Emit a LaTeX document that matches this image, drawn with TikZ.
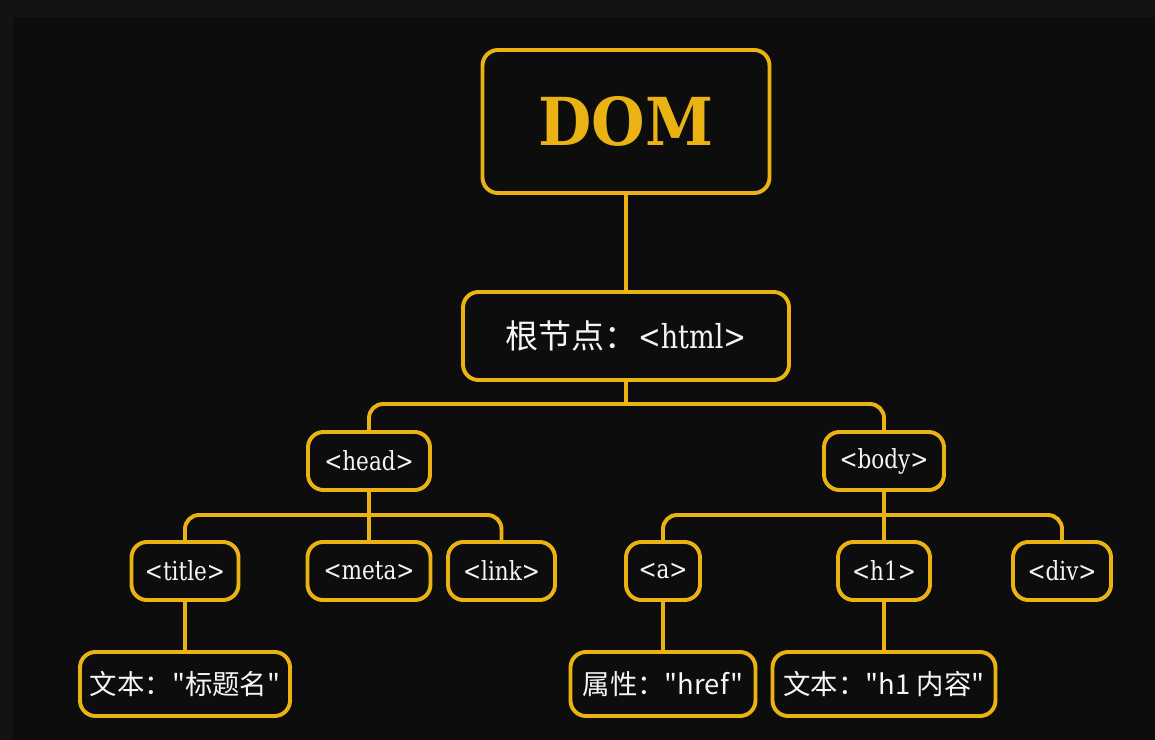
\documentclass[tikz,border=0pt]{standalone}
\usepackage{fontspec}
\setmainfont{DejaVu Serif}[FakeStretch=0.82]
\newfontfamily\cjk{Noto Sans CJK SC}
\newfontfamily\domfont{DejaVu Serif}[FakeStretch=0.93]
\definecolor{domgold}{RGB}{234,178,18}
\definecolor{bgdark}{RGB}{13,13,13}
\definecolor{bgedge}{RGB}{19,19,19}
\definecolor{tagwhite}{RGB}{245,245,245}
\newcommand{\px}{0.025cm}
\tikzset{
  dbox/.style  = {draw=domgold, line width=2.8pt, rounded corners=11pt,
                  fill=bgdark, inner sep=0pt, text=tagwhite},
  dtop/.style  = {dbox, minimum height={143*\px}, text=domgold,
                  font=\domfont\bfseries\fontsize{47}{52}\selectfont}, % the title box
  droot/.style = {dbox, minimum height={88*\px}, font=\fontsize{23.5}{28}\selectfont},
  dtag/.style  = {dbox, minimum height={58*\px}, font=\fontsize{18.7}{22}\selectfont},
  dleaf/.style = {dbox, minimum height={64*\px}, font=\cjk\fontsize{19.5}{23}\selectfont},
  dline/.style = {draw=domgold, line width=2.8pt, rounded corners=10pt},
}

\begin{document}
\begin{tikzpicture}[x=\px, y=-\px]
  \useasboundingbox (0,0) rectangle (1155,740);
  \fill[bgedge] (0,0) rectangle (1155,740);
  \fill[bgdark] (13,17) rectangle (1155,740);

  % levels, top to bottom
  \node[dtop, minimum width={287*\px}] (dom) at (626,121.5) {DOM};
  \node[droot, minimum width={326*\px}] (html) at (626,336) {{\cjk 根节点：}<html>};

  \node[dtag, minimum width={122*\px}] (head) at (369,461) {<head>};
  \node[dtag, minimum width={120*\px}] (body) at (884,461) {<body>};

  \node[dtag, minimum width={107*\px}] (title) at (185,571) {<title>};
  \node[dtag, minimum width={123*\px}] (meta) at (369,571) {<meta>};
  \node[dtag, minimum width={107*\px}] (link) at (501.5,571) {<link>};
  \node[dtag, minimum width={74*\px}] (a) at (663,571) {<a>};
  \node[dtag, minimum width={92*\px}] (h1) at (884,571) {<h1>};
  \node[dtag, minimum width={98*\px}] (div) at (1062,571) {<div>};

  \node[dleaf, minimum width={210*\px}] (titletext) at (185,684) {文本："标题名"};
  \node[dleaf, minimum width={185*\px}] (href) at (663,684) {属性："href"};
  \node[dleaf, minimum width={223*\px}] (h1text) at (884,684) {文本："h1 内容"};

  % buses
  \coordinate (htmlbus) at (626,404);
  \coordinate (headbus) at (369,515);
  \coordinate (bodybus) at (884,515);

  \draw[dline] (dom) -- (html);
  \draw[dline] (html.south) -- (htmlbus);
  \draw[dline] (head.north) |- (htmlbus) -| (body.north);

  \draw[dline] (title.north) |- (headbus) -| (link.north);
  \draw[dline] (head.south) -- (meta.north);
  \draw[dline] (a.north) |- (bodybus) -| (div.north);
  \draw[dline] (body.south) -- (h1.north);

  \draw[dline] (title.south) -- (titletext.north);
  \draw[dline] (a.south) -- (href.north);
  \draw[dline] (h1.south) -- (h1text.north);
\end{tikzpicture}
\end{document}
